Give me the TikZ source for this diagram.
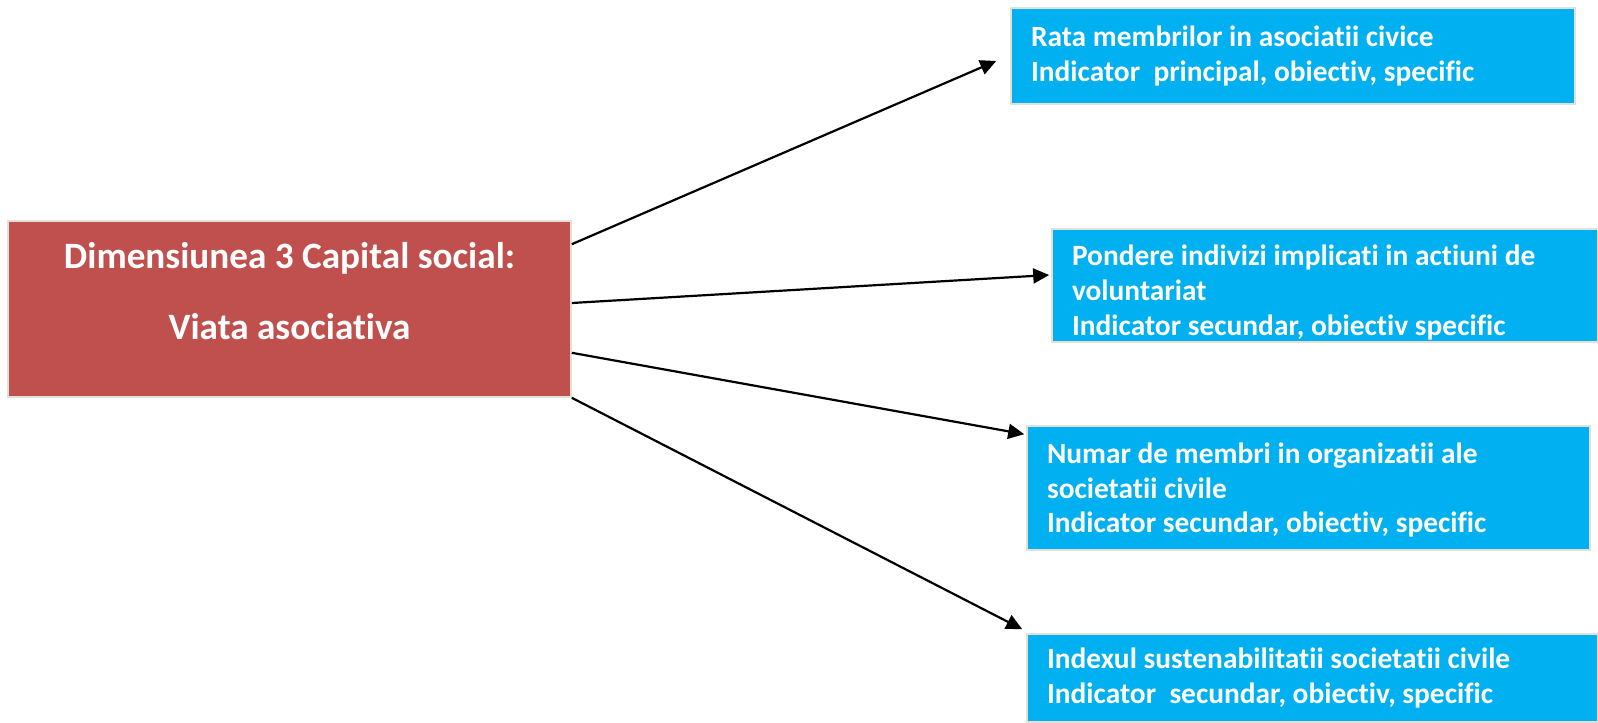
\documentclass[tikz,border=0pt]{standalone}
\usepackage{fontspec}
\setmainfont[Ligatures=NoCommon]{Carlito}
\usetikzlibrary{arrows.meta}
\definecolor{dimred}{HTML}{C0504D}
\definecolor{indblue}{HTML}{00B0F0}
\definecolor{boxrim}{HTML}{E3E0D8}

\begin{document}
\begin{tikzpicture}[x=0.5pt,y=-0.5pt,
	dimbox/.style={draw=boxrim,line width=0.8pt,fill=dimred,text=white,font=\bfseries\fontsize{18.6}{35.5}\selectfont,align=center,minimum width=281.5pt,minimum height=88pt,inner sep=0pt,text depth=18.5pt},
	indbox/.style={draw=boxrim,line width=0.8pt,fill=indblue,text=white,font=\bfseries\fontsize{14.7}{17.35}\selectfont,align=flush left,inner xsep=10pt,inner ysep=0pt},
	link/.style={line width=1.1pt,-{Triangle[length=8pt,width=7.5pt]}}]
	\useasboundingbox (0,0) rectangle (1598,722);
	\node[dimbox] (dim) at (289.5,309) {Dimensiunea 3 Capital social:\\Viata asociativa};
	\node[indbox,text width=262pt,minimum height=48pt] (ind1) at (1293,56) {Rata membrilor in asociatii civice\\Indicator\ \ principal, obiectiv, specific};
	\node[indbox,text width=253pt,minimum height=56.5pt,text height=17.5pt] (ind2) at (1325,285.5) {Pondere indivizi implicati in actiuni de\\voluntariat\\Indicator secundar, obiectiv specific};
	\node[indbox,text width=261.5pt,minimum height=62pt,text height=12.5pt] (ind3) at (1308.5,488) {Numar de membri in organizatii ale\\societatii civile\\Indicator secundar, obiectiv, specific};
	\node[indbox,text width=265.5pt,minimum height=44pt] (ind4) at (1312.5,678) {Indexul sustenabilitatii societatii civile\\Indicator\ \ secundar, obiectiv, specific};

	\draw[link] ([yshift=-12pt]dim.north east) -- ([xshift=-7pt,yshift=-2.5pt]ind1.west);
	\draw[link] ([yshift=3pt]dim.east) -- ([xshift=-1pt,yshift=5.25pt]ind2.west);
	\draw[link] ([yshift=22.5pt]dim.south east) -- ([xshift=-1pt,yshift=-4.5pt]ind3.north west);
	\draw[link] (dim.south east) -- ([xshift=-2pt,yshift=2pt]ind4.north west);
\end{tikzpicture}
\end{document}
